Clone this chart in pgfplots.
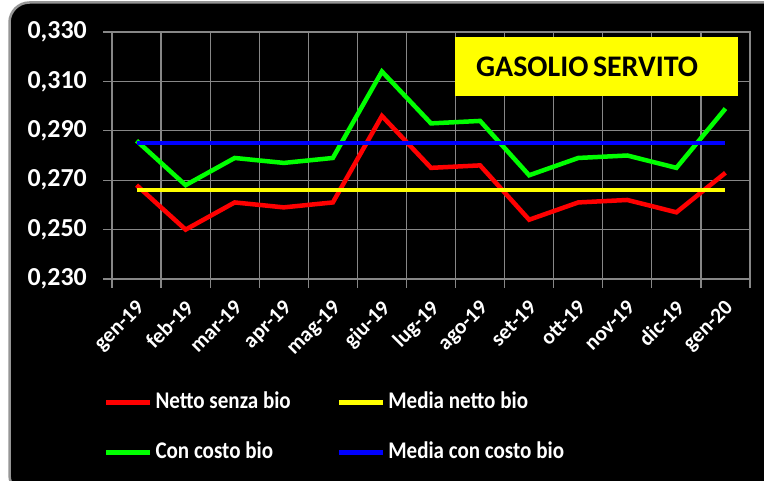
\documentclass[border=0pt]{standalone}
\usepackage{pgfplots}
\pgfplotsset{compat=1.18}
\usepackage{fontspec}
\setmainfont{Carlito}
\newfontfamily\legfont{Carlito}[FakeStretch=0.88]
\definecolor{gridgray}{RGB}{135,135,135}
\definecolor{framegray}{RGB}{150,150,150}
\definecolor{cred}{RGB}{255,0,0}
\definecolor{cgreen}{RGB}{0,255,0}
\definecolor{cyellow}{RGB}{255,255,0}
\definecolor{cblue}{RGB}{0,0,255}
\begin{document}
\begin{tikzpicture}[x=1bp,y=1bp]
\useasboundingbox (0,0) rectangle (764,-481);
\fill[white] (0,0) rectangle (764,-481);
\filldraw[fill=black, draw=framegray, line width=2.5bp, rounded corners=20bp] (9.5,-2.5) rectangle (790,-495);
\begin{axis}[
  at={(112bp,-279bp)}, anchor=south west,
  scale only axis, width=638bp, height=247bp,
  xmin=-0.5, xmax=12.5, ymin=0.23, ymax=0.33,
  xtick={-0.5,0.5,1.5,2.5,3.5,4.5,5.5,6.5,7.5,8.5,9.5,10.5,11.5,12.5},
  xticklabels={gen-19,feb-19,mar-19,apr-19,mag-19,giu-19,lug-19,ago-19,set-19,ott-19,nov-19,dic-19,gen-20,{}},
  ytick={0.23,0.25,0.27,0.29,0.31,0.33},
  yticklabels={{0,230},{0,250},{0,270},{0,290},{0,310},{0,330}},
  xtick pos=left, ytick pos=left,
  tick align=outside, major tick length=8.5bp,
  grid=major, grid style={gridgray, line width=1.2bp},
  axis line style={gridgray, line width=1.2bp},
  tick style={gridgray, line width=1.2bp},
  yticklabel style={font=\bfseries\fontsize{26}{26}\selectfont, text=white, inner sep=0pt, anchor=east, xshift=-16.5bp},
  xticklabel style={font=\bfseries\fontsize{21.5}{21.5}\selectfont, text=white, inner sep=0pt, xshift=23bp, yshift=-11bp, rotate=45, anchor=north east},
  transpose legend, legend columns=2,
  legend cell align=left,
  legend image code/.code={\draw[#1] (0bp,0bp) -- (44bp,0bp);},
  legend style={at={(-0.0175,-0.446)}, anchor=north west, draw=none, fill=none, text=white,
    font=\legfont\bfseries\fontsize{24}{24}\selectfont,
    nodes={inner sep=0pt, text height=17bp, text depth=5bp},
    row sep=28bp,
    /tikz/every odd column/.append style={column sep=3bp},
    /tikz/every even column/.append style={column sep=46bp}},
]
\addplot[cred, line width=4.5bp] coordinates {
(0,0.268) (1,0.250) (2,0.261) (3,0.259) (4,0.261) (5,0.296) (6,0.275)
(7,0.276) (8,0.254) (9,0.261) (10,0.262) (11,0.257) (12,0.273)};
\addlegendentry{Netto senza bio}
\addplot[cgreen, line width=4.5bp] coordinates {
(0,0.286) (1,0.268) (2,0.279) (3,0.277) (4,0.279) (5,0.314) (6,0.293)
(7,0.294) (8,0.272) (9,0.279) (10,0.280) (11,0.275) (12,0.299)};
\addlegendentry{Con costo bio}
\addplot[cyellow, line width=4.5bp] coordinates {
(0,0.266) (1,0.266) (2,0.266) (3,0.266) (4,0.266) (5,0.266) (6,0.266)
(7,0.266) (8,0.266) (9,0.266) (10,0.266) (11,0.266) (12,0.266)};
\addlegendentry{Media netto bio}
\addplot[cblue, line width=4.5bp] coordinates {
(0,0.285) (1,0.285) (2,0.285) (3,0.285) (4,0.285) (5,0.285) (6,0.285)
(7,0.285) (8,0.285) (9,0.285) (10,0.285) (11,0.285) (12,0.285)};
\addlegendentry{Media con costo bio}
\end{axis}
\fill[cyellow] (455,-37) rectangle (738,-96);
\node[anchor=base west, inner sep=0pt, font=\bfseries\fontsize{30}{30}\selectfont, text=black] at (476,-77) {GASOLIO\hspace{4.5bp}SERVITO};
\end{tikzpicture}
\end{document}
